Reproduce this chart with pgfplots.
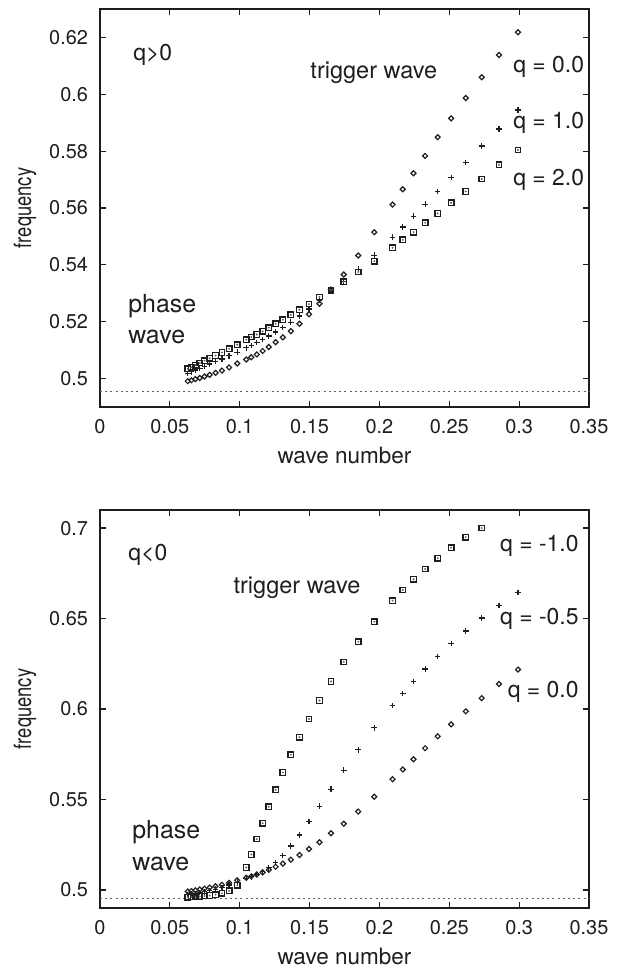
\documentclass[border=0pt]{standalone}
\usepackage{fontspec}
\setmainfont{TeX Gyre Heros}
\usepackage{pgfplots}
\usepackage{pgfplotstable}
\pgfplotsset{compat=1.18}

% q = 0.0 (diamonds), same in both panels
\pgfplotstableread{
x y
0.2992 0.6218
0.2856 0.6138
0.2732 0.6060
0.2618 0.5987
0.2513 0.5915
0.2417 0.5849
0.2327 0.5783
0.2244 0.5722
0.2167 0.5666
0.2094 0.5612
0.1963 0.5515
0.1848 0.5433
0.1745 0.5366
0.1653 0.5313
0.1571 0.5263
0.1496 0.5226
0.1428 0.5193
0.1366 0.5167
0.1309 0.5145
0.1257 0.5128
0.1208 0.5111
0.1164 0.5097
0.1122 0.5085
0.1083 0.5075
0.1047 0.5067
0.0982 0.5053
0.0924 0.5039
0.0873 0.5028
0.0827 0.5020
0.0785 0.5013
0.0748 0.5007
0.0714 0.5002
0.0683 0.4998
0.0654 0.4994
0.0628 0.4991
}\qzero

% q = 1.0 (plus)
\pgfplotstableread{
x y
0.2992 0.5945
0.2856 0.5878
0.2732 0.5818
0.2618 0.5760
0.2513 0.5707
0.2417 0.5658
0.2327 0.5613
0.2244 0.5571
0.2167 0.5533
0.2094 0.5497
0.1963 0.5434
0.1848 0.5385
0.1745 0.5342
0.1653 0.5308
0.1571 0.5274
0.1496 0.5245
0.1428 0.5220
0.1366 0.5198
0.1309 0.5180
0.1257 0.5164
0.1208 0.5150
0.1164 0.5138
0.1122 0.5127
0.1083 0.5117
0.1047 0.5108
0.0982 0.5093
0.0924 0.5080
0.0873 0.5069
0.0827 0.5060
0.0785 0.5051
0.0748 0.5043
0.0714 0.5036
0.0683 0.5030
0.0654 0.5024
0.0628 0.5018
}\qone

% q = 2.0 (squares)
\pgfplotstableread{
x y
0.2992 0.5804
0.2856 0.5752
0.2732 0.5702
0.2618 0.5658
0.2513 0.5618
0.2417 0.5581
0.2327 0.5548
0.2244 0.5515
0.2167 0.5488
0.2094 0.5460
0.1963 0.5413
0.1848 0.5375
0.1745 0.5341
0.1653 0.5311
0.1571 0.5287
0.1496 0.5262
0.1428 0.5242
0.1366 0.5224
0.1309 0.5207
0.1257 0.5193
0.1208 0.5179
0.1164 0.5166
0.1122 0.5155
0.1083 0.5146
0.1047 0.5137
0.0982 0.5119
0.0924 0.5105
0.0873 0.5092
0.0827 0.5081
0.0785 0.5071
0.0748 0.5063
0.0714 0.5055
0.0683 0.5047
0.0654 0.5040
0.0628 0.5035
}\qtwo

% q = -0.5 (plus)
\pgfplotstableread{
x y
0.2992 0.6643
0.2856 0.6573
0.2732 0.6503
0.2618 0.6431
0.2513 0.6361
0.2417 0.6290
0.2327 0.6221
0.2244 0.6153
0.2167 0.6085
0.2094 0.6019
0.1963 0.5896
0.1848 0.5774
0.1745 0.5662
0.1653 0.5557
0.1571 0.5463
0.1496 0.5379
0.1428 0.5303
0.1366 0.5243
0.1309 0.5191
0.1257 0.5151
0.1208 0.5122
0.1164 0.5100
0.1122 0.5085
0.1083 0.5073
0.1047 0.5062
0.0982 0.5043
0.0924 0.5027
0.0873 0.5014
0.0827 0.5004
0.0785 0.4996
0.0748 0.4990
0.0714 0.4985
0.0683 0.4981
0.0654 0.4978
0.0628 0.4975
}\qmhalf

% q = -1.0 (squares)
\pgfplotstableread{
x y
0.2732 0.7000
0.2618 0.6950
0.2513 0.6891
0.2417 0.6834
0.2327 0.6774
0.2244 0.6717
0.2167 0.6658
0.2094 0.6599
0.1963 0.6483
0.1848 0.6371
0.1745 0.6260
0.1653 0.6152
0.1571 0.6047
0.1496 0.5945
0.1428 0.5844
0.1366 0.5747
0.1309 0.5649
0.1257 0.5553
0.1208 0.5460
0.1164 0.5369
0.1122 0.5281
0.1083 0.5196
0.1047 0.5124
0.0982 0.5025
0.0924 0.4995
0.0873 0.4981
0.0827 0.4974
0.0785 0.4969
0.0748 0.4966
0.0714 0.4964
0.0683 0.4962
0.0654 0.4961
0.0628 0.4960
}\qmone

\definecolor{ink}{HTML}{1E1E1E}

\tikzset{
  ann/.style={font=\fontsize{11.5}{16}\selectfont, text=ink, inner sep=0pt},
  trig/.style={font=\fontsize{11.8}{16}\selectfont, text=ink, inner sep=0pt},
}

\pgfplotsset{
  panel/.style={
    anchor=south west, width=244.5bp, height=199bp, scale only axis,
    xmin=0, xmax=0.35,
    xtick={0,0.05,0.1,0.15,0.2,0.25,0.3,0.35},
    xticklabels={0,0.05,0.1,0.15,0.2,0.25,0.3,0.35},
    tick align=inside, major tick length=3bp,
    axis line style={line width=0.8bp, ink},
    every tick/.style={line width=0.6bp, ink},
    tick label style={font=\fontsize{10}{11}\selectfont, text=ink},
    xticklabel style={yshift=-2.5bp},
    yticklabel style={xshift=-2.5bp},
    xlabel={wave number}, ylabel={\scalebox{1}[1.3]{frequency}},
    xlabel style={font=\fontsize{11.3}{13}\selectfont, text=ink, at={(axis description cs:0.5,0)}, anchor=center, yshift=-24bp},
    ylabel style={font=\fontsize{9.2}{12}\selectfont, text=ink, at={(axis description cs:-0.1534,0.5)}, anchor=center},
    clip=false,
  },
  dia/.style={only marks, mark=square, mark size=0.88bp, mark options={rotate=45, line width=0.6bp, ink, fill=none}},
  plu/.style={only marks, mark=+, mark size=1.4bp, mark options={line width=0.6bp, ink}},
  squ/.style={only marks, mark=square, mark size=1.38bp, mark options={line width=0.65bp, ink, fill=none}},
  sqdot/.style={only marks, mark=*, mark size=0.25bp, mark options={ink!70, draw=none}},
  dotline/.style={ink!70, line width=0.45bp, dash pattern=on 1bp off 1.6bp},
}

\begin{document}
\begin{tikzpicture}
\useasboundingbox (0,0) rectangle (312bp,490bp);

% ---------- top panel: q > 0 ----------
\begin{axis}[panel, at={(50bp,286.5bp)},
  ymin=0.49, ymax=0.63,
  ytick={0.5,0.52,0.54,0.56,0.58,0.6,0.62},
  yticklabels={0.5,0.52,0.54,0.56,0.58,0.6,0.62}]
\addplot[dotline] coordinates {(0,0.4955) (0.35,0.4955)};
\addplot[dia] table {\qzero};
\addplot[plu] table {\qone};
\addplot[squ] table {\qtwo};
\addplot[sqdot] table {\qtwo};
\node[ann, anchor=west] at (axis cs:0.0236,0.6138) {q>0};
\node[trig] at (axis cs:0.1960,0.6075) {trigger wave};
\node[ann, anchor=west] at (axis cs:0.2956,0.6096) {q = 0.0};
\node[ann, anchor=west] at (axis cs:0.2956,0.5899) {q = 1.0};
\node[ann, anchor=west] at (axis cs:0.2956,0.5699) {q = 2.0};
\node[ann, anchor=west, align=left, font=\fontsize{12.5}{16}\selectfont] at (axis cs:0.02,0.5209) {phase\\wave};
\end{axis}

% ---------- bottom panel: q < 0 ----------
\begin{axis}[panel, at={(50bp,36bp)},
  ymin=0.49, ymax=0.71,
  ytick={0.5,0.55,0.6,0.65,0.7},
  yticklabels={0.5,0.55,0.6,0.65,0.7}]
\addplot[dotline] coordinates {(0,0.4955) (0.35,0.4955)};
\addplot[dia] table {\qzero};
\addplot[plu] table {\qmhalf};
\addplot[squ] table {\qmone};
\addplot[sqdot] table {\qmone};
\node[ann, anchor=west] at (axis cs:0.0201,0.6851) {q<0};
\node[trig] at (axis cs:0.1410,0.6670) {trigger wave};
\node[ann, anchor=east] at (axis cs:0.3428,0.6901) {q = -1.0};
\node[ann, anchor=east] at (axis cs:0.3428,0.6497) {q = -0.5};
\node[ann, anchor=east] at (axis cs:0.3428,0.6096) {q = 0.0};
\node[ann, anchor=west, align=left, font=\fontsize{12.5}{16}\selectfont] at (axis cs:0.0229,0.5244) {phase\\wave};
\end{axis}
\end{tikzpicture}
\end{document}
